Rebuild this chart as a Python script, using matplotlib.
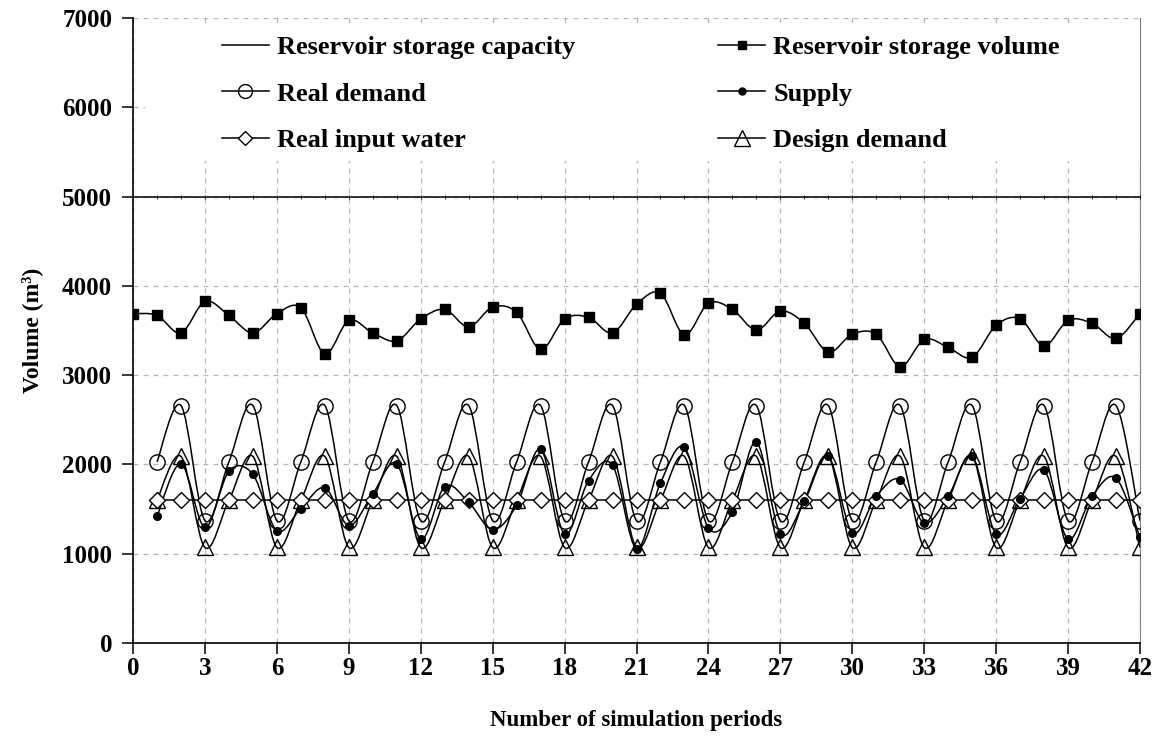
import numpy as np
import matplotlib
matplotlib.use('Agg')
import matplotlib.pyplot as plt
from matplotlib.path import Path
from matplotlib.patches import PathPatch, Rectangle
from matplotlib.lines import Line2D

plt.rcParams['font.family'] = ['Liberation Serif', 'DejaVu Serif']
plt.rcParams['font.weight'] = 'bold'

# data
periods = list(range(0, 43))
capacity = [5000] * 43
storage = [3689, 3670, 3473, 3826, 3670, 3473, 3689, 3756, 3240, 3614,
           3473, 3385, 3629, 3737, 3540, 3763, 3704, 3289, 3629, 3648,
           3473, 3793, 3918, 3452, 3807, 3737, 3504, 3719, 3581, 3259,
           3459, 3459, 3096, 3400, 3311, 3200, 3559, 3633, 3329, 3614,
           3581, 3411, 3689]

periods_d = list(range(1, 43))
real_demand = [2030, 2660, 1370] * 14
design_demand = [1600, 2090, 1070] * 14
input_water = [1600] * 42
supply = [1419, 2008, 1296, 1925, 1888, 1258, 1506, 1738, 1315, 1671,
          2008, 1165, 1753, 1576, 1270, 1543, 2169, 1221, 1820, 1992,
          1056, 1794, 2191, 1289, 1468, 2251, 1225, 1588, 2093, 1232,
          1644, 1831, 1345, 1644, 2093, 1221, 1618, 1936, 1165, 1644,
          1846, 1183]


def smooth_path(x, y):
    # excel-like smoothed line (catmull-rom as cubic bezier)
    pts = np.column_stack([x, y]).astype(float)
    n = len(pts)
    verts = [pts[0]]
    codes = [Path.MOVETO]
    for i in range(n - 1):
        p0 = pts[i - 1] if i > 0 else pts[i]
        p1 = pts[i]
        p2 = pts[i + 1]
        p3 = pts[i + 2] if i + 2 < n else pts[i + 1]
        verts += [p1 + (p2 - p0) / 6, p2 - (p3 - p1) / 6, p2]
        codes += [Path.CURVE4] * 3
    return Path(verts, codes)


fig = plt.figure(figsize=(11.63, 7.55), dpi=100)
ax = fig.add_axes([0.1144, 0.1483, 0.8658, 0.8278])

lw = 1.1
# capacity line
ax.plot(periods, capacity, color='black', lw=lw, zorder=3)
ax.plot(periods, capacity, ls='none', marker='|', ms=3, color='black', mew=0.6, zorder=3)

# storage volume
ax.add_patch(PathPatch(smooth_path(periods, storage), fill=False, color='black', lw=lw, zorder=3))
ax.plot(periods, storage, ls='none', marker='s', ms=6.5, color='black', zorder=4)

# real demand
ax.add_patch(PathPatch(smooth_path(periods_d, real_demand), fill=False, color='black', lw=lw, zorder=3))
ax.plot(periods_d, real_demand, ls='none', marker='o', ms=11, mfc='none', mec='black', mew=1.0, zorder=4)

# design demand
ax.add_patch(PathPatch(smooth_path(periods_d, design_demand), fill=False, color='black', lw=lw, zorder=3))
ax.plot(periods_d, design_demand, ls='none', marker='^', ms=12, mfc='none', mec='black', mew=1.0, zorder=4)

# real input water
ax.plot(periods_d, input_water, color='black', lw=lw, zorder=3)
ax.plot(periods_d, input_water, ls='none', marker='D', ms=8.5, mfc='white', mec='black', mew=1.0, zorder=4)

# supply
ax.add_patch(PathPatch(smooth_path(periods_d, supply), fill=False, color='black', lw=lw, zorder=3))
ax.plot(periods_d, supply, ls='none', marker='o', ms=5.5, color='black', zorder=5)

ax.set_xlim(0, 42)
ax.set_ylim(0, 7000)
ax.set_xticks(range(0, 43, 3))
ax.set_yticks(range(0, 7001, 1000))
ax.set_axisbelow(True)
ax.grid(True, color='#b4b4b4', ls=(0, (4, 4)), lw=0.9)

# white area behind the legend
ax.add_patch(Rectangle((0.5, 5400), 41.5, 1550, facecolor='white', edgecolor='none', zorder=1))

ax.spines['top'].set_visible(False)
ax.spines['right'].set_color('#808080')
ax.spines['left'].set_linewidth(1.2)
ax.spines['bottom'].set_linewidth(1.2)
ax.tick_params(axis='both', direction='out', length=8, width=1.1, labelsize=18)
ax.tick_params(axis='y', pad=7)
ax.tick_params(axis='x', pad=2)
for lab in ax.get_xticklabels() + ax.get_yticklabels():
    lab.set_fontweight('bold')

ax.set_ylabel('Volume (m³)', fontsize=17, fontweight='bold', labelpad=14)
ax.set_xlabel('Number of simulation periods', fontsize=16.5, fontweight='bold', labelpad=22)

# legend filled column by column, so order gives the reference's rows
handles = [
    Line2D([], [], color='black', lw=lw),
    Line2D([], [], color='black', lw=lw, marker='o', ms=10, mfc='none'),
    Line2D([], [], color='black', lw=lw, marker='D', ms=7.5, mfc='white'),
    Line2D([], [], color='black', lw=lw, marker='s', ms=5.5),
    Line2D([], [], color='black', lw=lw, marker='o', ms=5),
    Line2D([], [], color='black', lw=lw, marker='^', ms=11, mfc='none'),
]
labels = ['Reservoir storage capacity', 'Real demand', 'Real input water',
          'Reservoir storage volume', 'Supply', 'Design demand']
leg = ax.legend(handles, labels, ncol=2, loc='upper left', bbox_to_anchor=(0.088, 0.972),
                frameon=False, borderpad=0, borderaxespad=0, handlelength=1.8,
                handletextpad=0.3, labelspacing=0.88, columnspacing=5.4,
                prop={'size': 19, 'weight': 'bold'})
leg.set_zorder(6)

fig.savefig('out.png', dpi=100)
